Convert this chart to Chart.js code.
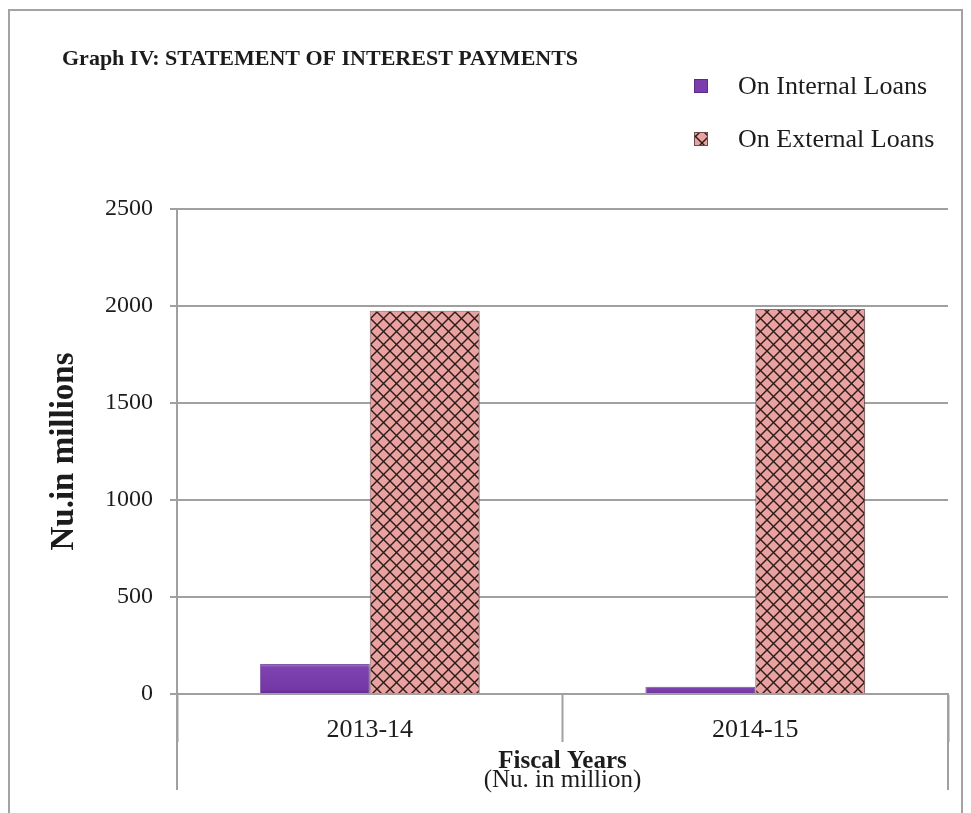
<!DOCTYPE html>
<html><head><meta charset="utf-8">
<script src="https://cdn.jsdelivr.net/npm/chart.js@4"></script>
<style>
html,body{margin:0;padding:0;background:#fff;overflow:hidden}
#wrap{position:relative;width:971px;height:813px}
#frame{position:absolute;left:8px;top:9px;width:955px;height:900px;border:2px solid #a3a3a3;box-sizing:border-box}
canvas{position:absolute;left:0;top:0}
</style></head><body>
<div id="wrap"><div id="frame"></div><canvas id="c" width="971" height="813"></canvas></div>
<script>
// ---- data ----
const categories = ['2013-14', '2014-15'];
const internalLoans = [155, 37];
const externalLoans = [1975, 1985];
const seriesNames = ['On Internal Loans', 'On External Loans'];
const yTicks = [0, 500, 1000, 1500, 2000, 2500];
const chartTitle = 'Graph IV: STATEMENT OF INTEREST PAYMENTS';
const yTitle = 'Nu.in millions';
const xTitle = 'Fiscal Years';
const xSubTitle = '(Nu. in million)';

const FONT = "'Liberation Serif','Times New Roman',serif";
const TEXT = '#1c1c1c';
const GRAY = '#a0a0a0';
Chart.defaults.font.family = FONT;
Chart.defaults.color = TEXT;

// crosshatch pattern for external loans
function makePattern() {
  const s = 13;
  const c = document.createElement('canvas');
  c.width = s; c.height = s;
  const g = c.getContext('2d');
  g.fillStyle = '#e9a2a0';
  g.fillRect(0, 0, s, s);
  g.strokeStyle = '#2b1b1b';
  g.lineWidth = 1.4;
  for (const d of [-s, 0, s]) {
    g.beginPath(); g.moveTo(d, 0); g.lineTo(d + s, s); g.stroke();
    g.beginPath(); g.moveTo(d + s, 0); g.lineTo(d, s); g.stroke();
  }
  return g.createPattern(c, 'repeat');
}
const ctx = document.getElementById('c').getContext('2d');
const hatch = makePattern();

function purpleFill(context) {
  const chart = context.chart;
  const y = chart.scales.y;
  if (!y || context.raw == null) return '#7a3dab';
  const top = y.getPixelForValue(context.raw);
  const base = y.getPixelForValue(0);
  if (!isFinite(top) || !isFinite(base) || base - top < 1) return '#7a3dab';
  const gr = chart.ctx.createLinearGradient(0, top, 0, base);
  gr.addColorStop(0, '#a47ccb');
  gr.addColorStop(0.12, '#7e43ae');
  gr.addColorStop(0.85, '#7437a5');
  gr.addColorStop(1, '#62298f');
  return gr;
}

const shadowPlugin = {
  id: 'barShadow',
  beforeDatasetsDraw(chart) {
    const c = chart.ctx;
    c.save();
    c.shadowColor = 'rgba(0,0,0,0.35)';
    c.shadowBlur = 4;
    c.shadowOffsetX = 2;
    c.shadowOffsetY = 1;
  },
  afterDatasetsDraw(chart) { chart.ctx.restore(); }
};

const decorPlugin = {
  id: 'decor',
  afterDraw(chart) {
    const c = chart.ctx;
    const a = chart.chartArea;
    c.save();
    // outer category edge lines extending below the axis
    c.strokeStyle = GRAY; c.lineWidth = 2;
    for (const x of [a.left, a.right]) {
      c.beginPath(); c.moveTo(x, a.bottom); c.lineTo(x, a.bottom + 96); c.stroke();
    }
    // title
    c.fillStyle = TEXT;
    c.textBaseline = 'alphabetic';
    c.textAlign = 'left';
    c.font = 'bold 22px ' + FONT;
    c.fillText(chartTitle, 62, 65);
    // subtitle under x title
    c.textAlign = 'center';
    c.font = '25px ' + FONT;
    c.fillText(xSubTitle, (a.left + a.right) / 2, 787);
    // legend
    const ds = chart.data.datasets;
    c.textAlign = 'left';
    c.textBaseline = 'middle';
    c.font = '26px ' + FONT;
    ds.forEach((d, i) => {
      const cy = 86 + i * 53;
      c.fillStyle = i === 0 ? '#7a3dab' : hatch;
      c.fillRect(694, cy - 7, 14, 14);
      c.strokeStyle = i === 0 ? '#5e2a8a' : '#6a4a4a';
      c.lineWidth = 1;
      c.strokeRect(694.5, cy - 6.5, 13, 13);
      c.fillStyle = TEXT;
      c.fillText(d.label, 738, cy + 1);
    });
    c.restore();
  }
};

new Chart(ctx, {
  type: 'bar',
  data: {
    labels: categories,
    datasets: [
      { label: seriesNames[0], data: internalLoans, backgroundColor: purpleFill, borderColor: '#8f62b8', borderWidth: 1 },
      { label: seriesNames[1], data: externalLoans, backgroundColor: hatch, borderColor: 'rgba(110,70,70,0.7)', borderWidth: 1 }
    ]
  },
  options: {
    responsive: false,
    animation: false,
    devicePixelRatio: 1,
    layout: { padding: { left: 0, right: 23, top: 209, bottom: 0 } },
    datasets: { bar: { categoryPercentage: 0.57, barPercentage: 1 } },
    plugins: { legend: { display: false }, title: { display: false }, tooltip: { enabled: false } },
    scales: {
      x: {
        grid: { display: true, drawOnChartArea: false, drawTicks: true, tickLength: 48, color: GRAY, tickColor: GRAY, tickWidth: 2, offset: true },
        border: { color: GRAY, width: 2 },
        ticks: { font: { size: 26 }, padding: -27, color: TEXT },
        title: { display: true, text: xTitle, font: { size: 25, weight: 'bold' }, color: TEXT, padding: { top: 0, bottom: 36 } },
        afterFit(s) { s.height = 119; }
      },
      y: {
        min: 0, max: 2500,
        afterBuildTicks(s) { s.ticks = yTicks.map(v => ({ value: v })); },
        grid: { color: GRAY, lineWidth: 2, tickLength: 7, drawTicks: true },
        border: { color: GRAY, width: 2 },
        ticks: { font: { size: 24 }, padding: 17, color: TEXT, callback: v => String(v) },
        title: { display: true, text: yTitle, font: { size: 33, weight: 'bold' }, color: TEXT, padding: { top: 45, bottom: 0 } },
        afterFit(s) { s.width = 177; }
      }
    }
  },
  plugins: [shadowPlugin, decorPlugin]
});
</script>
</body></html>
